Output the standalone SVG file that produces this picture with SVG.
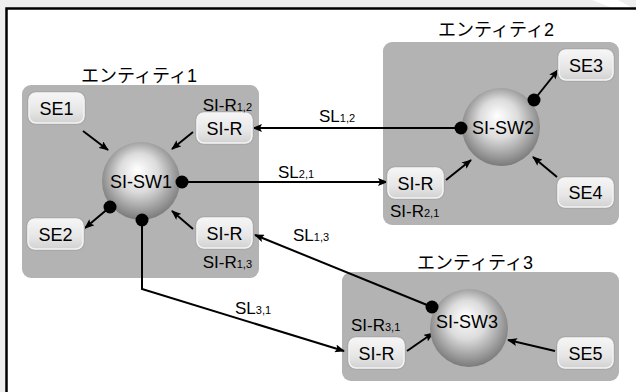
<svg xmlns="http://www.w3.org/2000/svg" width="636" height="392" viewBox="0 0 636 392">
<style>
.ent{fill:#b3b3b3}
.btn{fill:url(#bg);stroke:#f4f4f4;stroke-width:1.5}
.btn2{fill:none;stroke:#a8a8a8;stroke-width:1}
.t{font-family:"Liberation Sans",Arial,sans-serif;font-size:17px;fill:#000}
.bt{font-family:"Liberation Sans",Arial,sans-serif;font-size:18px;fill:#000;text-anchor:middle}
.sub{font-size:11px}
.jp{font-family:"Liberation Sans","Noto Sans CJK JP",sans-serif;font-size:18px;fill:#000;text-anchor:middle}
.ln{fill:none;stroke:#000;stroke-width:2}
.ar{marker-end:url(#ah)}
.dot{fill:#000}
.sph{fill:url(#sg)}
</style>
<defs>
<radialGradient id="sg" cx="0.5" cy="0.45" r="0.55" fx="0.45" fy="0.35">
<stop offset="0" stop-color="#ffffff"/>
<stop offset="0.45" stop-color="#dcdcdc"/>
<stop offset="1" stop-color="#7a7a7a"/>
</radialGradient>
<linearGradient id="bg" x1="0" y1="0" x2="0" y2="1">
<stop offset="0" stop-color="#f6f6f6"/>
<stop offset="0.6" stop-color="#e6e6e6"/>
<stop offset="1" stop-color="#d2d2d2"/>
</linearGradient>
<marker id="ah" markerWidth="10" markerHeight="8" refX="9" refY="4" orient="auto" markerUnits="userSpaceOnUse">
<path d="M0,0 L10,4 L0,8 L2,4 Z" fill="#000"/>
</marker>
</defs>
<rect x="0" y="0" width="636" height="392" fill="#eeeeee"/>
<polygon points="592,0 618,0 636,10 636,12 612,8" fill="#ffffff"/>
<rect x="6.5" y="8.5" width="640" height="400" fill="#ffffff" stroke="#000" stroke-width="2.5"/>

<g id="entity1">
<rect class="ent" x="22" y="85" width="237" height="193" rx="9"/>
<text class="jp" x="139" y="82">エンティティ1</text>
</g>
<g id="entity2">
<rect class="ent" x="383" y="42" width="236" height="183" rx="9"/>
<text class="jp" x="496" y="36">エンティティ2</text>
</g>
<g id="entity3">
<rect class="ent" x="342" y="272" width="277" height="109" rx="9"/>
<text class="jp" x="475" y="269">エンティティ3</text>
</g>

<g id="connectors">
<line class="ln ar" x1="83" y1="131" x2="108" y2="150"/>
<line class="ln ar" x1="193" y1="132" x2="172" y2="149"/>
<line class="ln ar" x1="110" y1="207" x2="85" y2="228"/>
<line class="ln ar" x1="193" y1="229" x2="172" y2="211"/>
<line class="ln ar" x1="182" y1="182" x2="387" y2="182"/>
<line class="ln ar" x1="461" y1="128" x2="253" y2="128"/>
<line class="ln ar" x1="534" y1="100" x2="558" y2="70"/>
<line class="ln ar" x1="446" y1="180" x2="471" y2="160"/>
<line class="ln ar" x1="557" y1="177" x2="533" y2="157"/>
<line class="ln ar" x1="432" y1="307" x2="255" y2="235"/>
<polyline class="ln ar" points="142,220 142,289 344,351"/>
<line class="ln ar" x1="407" y1="351" x2="433" y2="333"/>
<line class="ln ar" x1="555" y1="351" x2="508" y2="340"/>
<text class="t" x="319" y="122">SL<tspan class="sub">1,2</tspan></text>
<text class="t" x="278" y="178">SL<tspan class="sub">2,1</tspan></text>
<text class="t" x="293" y="241">SL<tspan class="sub">1,3</tspan></text>
<text class="t" x="235" y="314">SL<tspan class="sub">3,1</tspan></text>
</g>

<g id="SI-SW1">
<circle class="sph" cx="141" cy="181" r="39"/>
<text class="bt" x="141" y="188">SI-SW1</text>
<circle class="dot" cx="182" cy="182" r="6.5"/>
<circle class="dot" cx="110" cy="207" r="6.5"/>
<circle class="dot" cx="142" cy="220" r="6.5"/>
</g>
<g id="SI-SW2">
<circle class="sph" cx="501" cy="127" r="39"/>
<text class="bt" x="503" y="134">SI-SW2</text>
<circle class="dot" cx="461" cy="128" r="6.5"/>
<circle class="dot" cx="534" cy="100" r="6.5"/>
</g>
<g id="SI-SW3">
<circle class="sph" cx="469" cy="328" r="39"/>
<text class="bt" x="467" y="328">SI-SW3</text>
<circle class="dot" cx="432" cy="307" r="6.5"/>
</g>

<g id="SE1">
<rect class="btn" x="29" y="93" width="55" height="30" rx="7"/>
<rect class="btn2" x="27.5" y="91.5" width="58" height="33" rx="8"/>
<text class="bt" x="56.5" y="115">SE1</text>
</g>
<g id="SE2">
<rect class="btn" x="28" y="219" width="55" height="30" rx="7"/>
<rect class="btn2" x="26.5" y="217.5" width="58" height="33" rx="8"/>
<text class="bt" x="55.5" y="241">SE2</text>
</g>
<g id="SI-R12">
<rect class="btn" x="197" y="113" width="55" height="30" rx="7"/>
<rect class="btn2" x="195.5" y="111.5" width="58" height="33" rx="8"/>
<text class="bt" x="224.5" y="135">SI-R</text>
<text class="t" x="252" y="111" text-anchor="end">SI-R<tspan class="sub">1,2</tspan></text>
</g>
<g id="SI-R13">
<rect class="btn" x="197" y="218" width="55" height="30" rx="7"/>
<rect class="btn2" x="195.5" y="216.5" width="58" height="33" rx="8"/>
<text class="bt" x="224.5" y="240">SI-R</text>
<text class="t" x="252" y="268" text-anchor="end">SI-R<tspan class="sub">1,3</tspan></text>
</g>
<g id="SE3">
<rect class="btn" x="559" y="50" width="54" height="30" rx="7"/>
<rect class="btn2" x="557.5" y="48.5" width="57" height="33" rx="8"/>
<text class="bt" x="586" y="72">SE3</text>
</g>
<g id="SI-R21">
<rect class="btn" x="388" y="168" width="55" height="30" rx="7"/>
<rect class="btn2" x="386.5" y="166.5" width="58" height="33" rx="8"/>
<text class="bt" x="415.5" y="190">SI-R</text>
<text class="t" x="390" y="217">SI-R<tspan class="sub">2,1</tspan></text>
</g>
<g id="SE4">
<rect class="btn" x="558" y="178" width="55" height="29" rx="7"/>
<rect class="btn2" x="556.5" y="176.5" width="58" height="32" rx="8"/>
<text class="bt" x="585.5" y="199">SE4</text>
</g>
<g id="SI-R31">
<rect class="btn" x="349" y="338" width="55" height="30" rx="7"/>
<rect class="btn2" x="347.5" y="336.5" width="58" height="33" rx="8"/>
<text class="bt" x="376.5" y="360">SI-R</text>
<text class="t" x="351" y="331">SI-R<tspan class="sub">3,1</tspan></text>
</g>
<g id="SE5">
<rect class="btn" x="558" y="338" width="55" height="30" rx="7"/>
<rect class="btn2" x="556.5" y="336.5" width="58" height="33" rx="8"/>
<text class="bt" x="585.5" y="360">SE5</text>
</g>
</svg>
